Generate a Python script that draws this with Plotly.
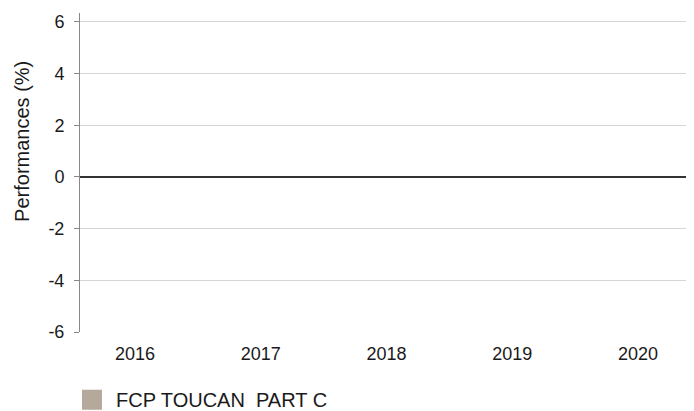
import plotly.graph_objects as go

categories = ["2016", "2017", "2018", "2019", "2020"]
series_name = "FCP TOUCAN\u00a0 PART C"
series_values = [None, None, None, None, None]
y_ticks = [-6, -4, -2, 0, 2, 4, 6]
y_title = "Performances (%)"

bar_color = "#b5a99b"
font_family = "Liberation Sans, Arial, sans-serif"

fig = go.Figure()
fig.add_trace(go.Bar(x=categories, y=series_values, name=series_name,
                     marker=dict(color=bar_color), showlegend=False))
# legend entry (scatter so the square symbol can be sized like the reference)
fig.add_trace(go.Scatter(x=categories, y=series_values, name=series_name, mode="markers",
                         marker=dict(symbol="square", size=16, color=bar_color,
                                     line=dict(color=bar_color, width=4)),
                         showlegend=True))

# page body has an 8px margin, so the figure is 686x403 and offset accordingly
fig.update_layout(
    width=686, height=403,
    margin=dict(l=72, r=0, t=5, b=79, autoexpand=False),
    paper_bgcolor="white", plot_bgcolor="white",
    font=dict(family=font_family, size=18, color="#1a1a1a"),
    showlegend=True,
    legend=dict(orientation="h", x=-0.0196, xanchor="left", y=-0.212, yanchor="middle",
                font=dict(size=20, color="#1a1a1a"), itemwidth=38,
                bgcolor="rgba(0,0,0,0)"),
    xaxis=dict(type="category", range=[-0.437, 4.445], showgrid=False, showline=False,
               ticks="", tickfont=dict(size=18), zeroline=False, fixedrange=True,
               ticklabelstandoff=9),
    yaxis=dict(range=[-6, 6.34], tickvals=y_ticks, ticktext=[str(v) for v in y_ticks],
               showgrid=True, gridcolor="#d4d4d4", gridwidth=1,
               zeroline=True, zerolinecolor="#333333", zerolinewidth=1.5,
               showline=True, linecolor="#888888", linewidth=1,
               ticks="outside", ticklen=5, tickcolor="#888888", tickwidth=1,
               ticklabelstandoff=6, tickfont=dict(size=18)),
    annotations=[dict(text=y_title, textangle=-90, xref="paper", yref="paper",
                      x=-0.0945, y=0.599, xanchor="center", yanchor="middle",
                      showarrow=False, font=dict(size=20, color="#1a1a1a"))],
)

fig.write_html("out.html")
